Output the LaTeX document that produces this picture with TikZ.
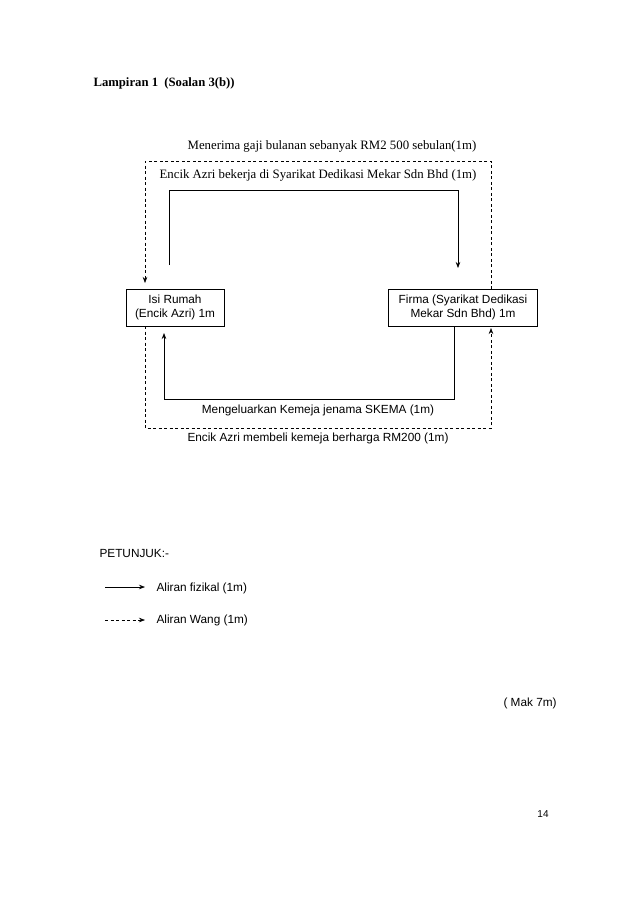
\documentclass[tikz,border=0pt]{standalone}
\usepackage{fontspec}
\setmainfont{Liberation Serif}
\setsansfont{Liberation Sans}
\usetikzlibrary{arrows.meta}

\begin{document}
\begin{tikzpicture}[x=1pt,y=-1pt,font=\sffamily\fontsize{11.8}{13.5}\selectfont,
  box/.style={draw,line width=0.6pt,align=center,minimum height=37pt,inner sep=2pt},
  fizikal/.style={line width=0.7pt,-{Stealth[length=6pt,width=4.5pt]}},
  wang/.style={line width=0.6pt,dash pattern=on 3pt off 2.5pt,-{Stealth[length=6pt,width=4.5pt]}},
  serif/.style={font=\rmfamily\fontsize{12.8}{14}\selectfont}]
  % page frame, y grows downwards
  \useasboundingbox (0,0) rectangle (638,903);
  \node[anchor=west,font=\rmfamily\bfseries\fontsize{12.7}{14}\selectfont] (tajuk) at (90,83)
    {Lampiran 1\ \ (Soalan 3(b))};
  % the two sectors
  \node[box,minimum width=98pt] (isi) at (175,307.5) {Isi Rumah\\(Encik Azri) 1m};
  \node[box,minimum width=149pt] (firma) at (463,307.5) {Firma (Syarikat Dedikasi\\Mekar Sdn Bhd) 1m};
  % corner points of the flows
  \coordinate (wA) at (491,289);   % money, top loop
  \coordinate (wB) at (145,283);
  \coordinate (wC) at (145,326);   % money, bottom loop
  \coordinate (wD) at (491,328);
  \coordinate (fA) at (169,265);   % goods/labour, top loop
  \coordinate (fB) at (458,268);
  \coordinate (fC) at (454,326);   % goods, bottom loop
  \coordinate (fD) at (164,333);
  % dashed money flows
  \draw[wang] (wA) -- (491,161) -| (wB);
  \draw[wang] (wC) -- (145,428) -| (wD);
  % solid physical flows
  \draw[fizikal] (fA) -- (169,190) -| (fB);
  \draw[fizikal] (fC) -- (454,399) -| (fD);
  % labels
  \node[serif] (gaji) at (332,146) {Menerima gaji bulanan sebanyak RM2 500 sebulan(1m)};
  \node[serif] (kerja) at (318,175) {Encik Azri bekerja di Syarikat Dedikasi Mekar Sdn Bhd (1m)};
  \node (kemeja) at (318,410) {Mengeluarkan Kemeja jenama SKEMA (1m)};
  \node (beli) at (318,438) {Encik Azri membeli kemeja berharga RM200 (1m)};
  % legend
  \node[anchor=west] (petunjuk) at (96,553) {PETUNJUK:-};
  \coordinate (lgA) at (105,587);
  \coordinate (lgB) at (145,587);
  \coordinate (lgC) at (105,620);
  \coordinate (lgD) at (145,620);
  \draw[fizikal] (lgA) -- (lgB);
  \draw[wang] (lgC) -- (lgD);
  \node[anchor=west] (lgfizikal) at (153,588) {Aliran fizikal (1m)};
  \node[anchor=west] (lgwang) at (153,620) {Aliran Wang (1m)};
  \node[anchor=west] (mak) at (500,703) {( Mak 7m)};
  \node[font=\sffamily\fontsize{10}{12}\selectfont] (muka) at (543,814) {14};
\end{tikzpicture}
\end{document}
